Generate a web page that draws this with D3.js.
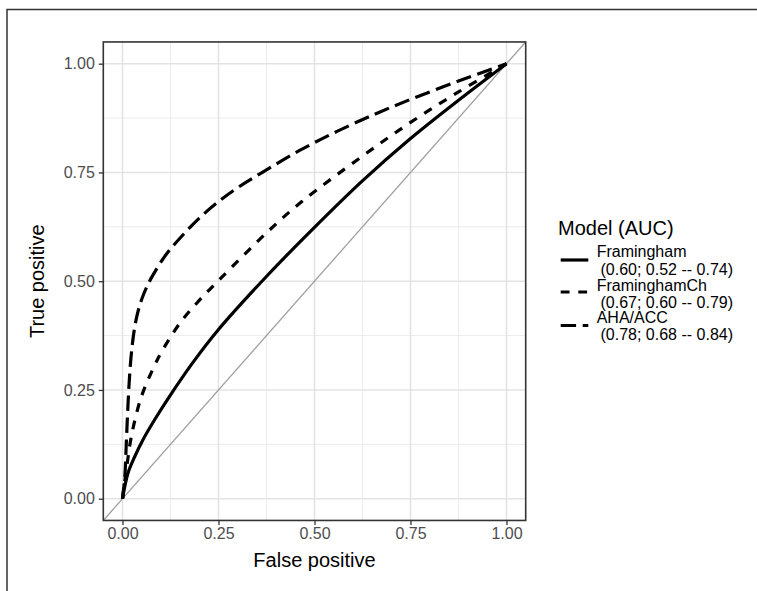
<!DOCTYPE html>
<html>
<head>
<meta charset="utf-8">
<script src="https://cdn.jsdelivr.net/npm/d3@7"></script>
<style>
  body { margin: 0; background: #fff; }
  text { font-family: "Liberation Sans", Arial, sans-serif; }
</style>
</head>
<body>
<div id="chart"></div>
<script>
// ROC curves (false positive rate, true positive rate)
var framinghamFP = [0, 0.014, 0.032, 0.053, 0.084, 0.123, 0.184, 0.249, 0.376, 0.498, 0.624, 0.75, 0.875, 1];
var framinghamTP = [0, 0.058, 0.097, 0.135, 0.182, 0.236, 0.314, 0.388, 0.512, 0.622, 0.730, 0.828, 0.916, 1];

var framChFP = [0, 0.005, 0.010, 0.023, 0.049, 0.084, 0.10, 0.149, 0.201, 0.252, 0.376, 0.467, 0.624, 0.75, 0.875, 1];
var framChTP = [0, 0.035, 0.066, 0.143, 0.234, 0.307, 0.335, 0.403, 0.457, 0.503, 0.612, 0.683, 0.787, 0.865, 0.935, 1];

var ahaFP = [0, 0.006, 0.010, 0.014, 0.019, 0.025, 0.031, 0.037, 0.045, 0.055, 0.067, 0.08, 0.114, 0.156, 0.20, 0.25, 0.30, 0.36, 0.46, 0.56, 0.66, 0.75, 0.875, 1];
var ahaTP = [0, 0.05, 0.13, 0.21, 0.29, 0.35, 0.39, 0.418, 0.445, 0.47, 0.494, 0.515, 0.562, 0.605, 0.645, 0.683, 0.715, 0.748, 0.80, 0.845, 0.885, 0.918, 0.96, 1];

var models = ["Framingham", "FraminghamCh", "AHA/ACC"];
var aucLabels = ["(0.60; 0.52 -- 0.74)", "(0.67; 0.60 -- 0.79)", "(0.78; 0.68 -- 0.84)"];
var tickValues = [0, 0.25, 0.5, 0.75, 1];
var minorValues = [0.125, 0.375, 0.625, 0.875];

var width = 757, height = 591;
var svg = d3.select('#chart').append('svg')
  .attr('width', width)
  .attr('height', height);

// outer frame
svg.append('rect')
  .attr('x', 7).attr('y', 9.5)
  .attr('width', 800).attr('height', 700)
  .attr('fill', 'none')
  .attr('stroke', '#333')
  .attr('stroke-width', 1.5);

var x0 = 122.5, x1 = 506.5, y0 = 498.7, y1 = 63.7;
var xScale = d3.scaleLinear().domain([0, 1]).range([x0, x1]);
var yScale = d3.scaleLinear().domain([0, 1]).range([y0, y1]);
var pLeft = xScale(-0.05), pRight = xScale(1.05), pTop = yScale(1.05), pBottom = yScale(-0.05);

var g = svg.append('g');

// grid
g.selectAll('.vminor').data(minorValues).enter().append('line')
  .attr('x1', function (d) { return xScale(d); }).attr('x2', function (d) { return xScale(d); })
  .attr('y1', pTop).attr('y2', pBottom)
  .attr('stroke', '#ececec').attr('stroke-width', 1);
g.selectAll('.hminor').data(minorValues).enter().append('line')
  .attr('y1', function (d) { return yScale(d); }).attr('y2', function (d) { return yScale(d); })
  .attr('x1', pLeft).attr('x2', pRight)
  .attr('stroke', '#ececec').attr('stroke-width', 1);
g.selectAll('.vmajor').data(tickValues).enter().append('line')
  .attr('x1', function (d) { return xScale(d); }).attr('x2', function (d) { return xScale(d); })
  .attr('y1', pTop).attr('y2', pBottom)
  .attr('stroke', '#e3e3e3').attr('stroke-width', 1.6);
g.selectAll('.hmajor').data(tickValues).enter().append('line')
  .attr('y1', function (d) { return yScale(d); }).attr('y2', function (d) { return yScale(d); })
  .attr('x1', pLeft).attr('x2', pRight)
  .attr('stroke', '#e3e3e3').attr('stroke-width', 1.6);

// diagonal reference
g.append('line')
  .attr('x1', xScale(-0.05)).attr('y1', yScale(-0.05))
  .attr('x2', xScale(1.05)).attr('y2', yScale(1.05))
  .attr('stroke', '#a0a0a0').attr('stroke-width', 1.3);

var dashes = [null, '8.8,8.8', '15.4,6.6'];
var series = [
  d3.zip(framinghamFP, framinghamTP),
  d3.zip(framChFP, framChTP),
  d3.zip(ahaFP, ahaTP)
];

var line = d3.line()
  .x(function (d) { return xScale(d[0]); })
  .y(function (d) { return yScale(d[1]); })
  .curve(d3.curveCatmullRom.alpha(0.5));

series.forEach(function (s, i) {
  g.append('path')
    .datum(s)
    .attr('d', line)
    .attr('fill', 'none')
    .attr('stroke', '#000')
    .attr('stroke-width', 3.2)
    .attr('stroke-dasharray', dashes[i]);
});

// panel border
g.append('rect')
  .attr('x', pLeft).attr('y', pTop)
  .attr('width', pRight - pLeft).attr('height', pBottom - pTop)
  .attr('fill', 'none')
  .attr('stroke', '#333').attr('stroke-width', 1.6);

// axes
var xAxis = d3.axisBottom(xScale).tickValues(tickValues).tickFormat(d3.format('.2f')).tickSize(4.5).tickPadding(3);
var yAxis = d3.axisLeft(yScale).tickValues(tickValues).tickFormat(d3.format('.2f')).tickSize(4.5).tickPadding(4);

var gx = g.append('g').attr('transform', 'translate(0,' + pBottom + ')').call(xAxis);
var gy = g.append('g').attr('transform', 'translate(' + pLeft + ',0)').call(yAxis);
[gx, gy].forEach(function (ax) {
  ax.select('.domain').remove();
  ax.selectAll('line').attr('stroke', '#333').attr('stroke-width', 1.3);
  ax.selectAll('text').attr('fill', '#4d4d4d').style('font-size', '16px')
    .style('font-family', '"Liberation Sans", Arial, sans-serif');
});

svg.append('text')
  .attr('x', (pLeft + pRight) / 2).attr('y', 567)
  .attr('text-anchor', 'middle')
  .style('font-size', '20px')
  .text('False positive');

svg.append('text')
  .attr('transform', 'translate(44,' + ((pTop + pBottom) / 2) + ') rotate(-90)')
  .attr('text-anchor', 'middle')
  .style('font-size', '20px')
  .text('True positive');

// legend
var legend = svg.append('g');
legend.append('text')
  .attr('x', 558).attr('y', 235)
  .style('font-size', '20px')
  .text('Model (AUC)');

var keyY = [260, 292, 325.5];
var labelY = [257.3, 290.7, 322.7];
models.forEach(function (m, i) {
  legend.append('line')
    .attr('x1', 560.7).attr('x2', 588.3)
    .attr('y1', keyY[i]).attr('y2', keyY[i])
    .attr('stroke', '#000').attr('stroke-width', 3.2)
    .attr('stroke-dasharray', dashes[i]);
  legend.append('text')
    .attr('x', 596.7).attr('y', labelY[i])
    .style('font-size', '16px')
    .text(m);
  legend.append('text')
    .attr('x', 600.5).attr('y', labelY[i] + 17.7)
    .style('font-size', '16px')
    .text(aucLabels[i]);
});
</script>
</body>
</html>
